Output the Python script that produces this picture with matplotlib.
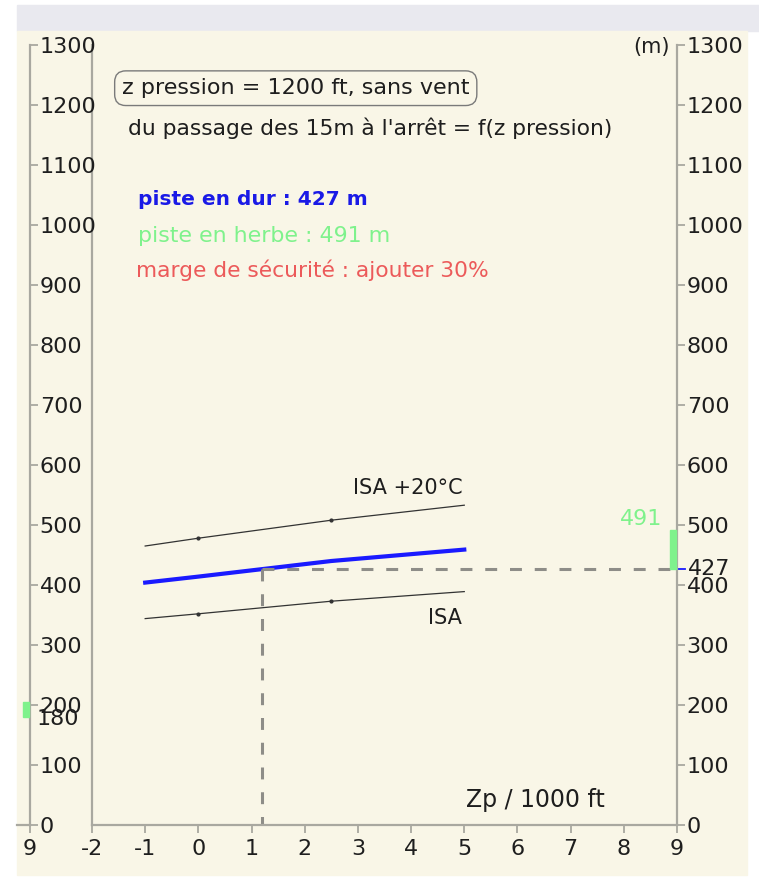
import matplotlib
matplotlib.use("Agg")
import matplotlib.pyplot as plt
from matplotlib.patches import Rectangle
import matplotlib.transforms as mtransforms

plt.rcParams["axes.unicode_minus"] = False

zp_points = [-1, 0, 2.5, 5]            # Zp / 1000 ft
dist_isa = [344, 352, 373, 389]         # m, ISA
dist_isa20 = [465, 478, 508, 533]       # m, ISA +20°C
dist_dur = [404, 414, 440, 459]         # m, piste en dur (interpolee)

zp_lu = 1.2          # z pression 1200 ft
dist_lue = 427       # piste en dur
dist_herbe = 491     # piste en herbe
dist_gauche = 180    # repere echelle gauche

x_ticks = list(range(-2, 10))
y_ticks = list(range(0, 1400, 100))

W, H = 759, 881
cream = "#f9f6e7"
axis_col = "#a9a8a0"
txt_col = "#1e1e1e"
fs = 16

fig = plt.figure(figsize=(W / 100, H / 100), dpi=100)
fig.patch.set_facecolor("white")

def px_rect(x0, y0, x1, y1, color):
    # rectangle en pixels (origine en haut a gauche)
    fig.add_artist(Rectangle((x0 / W, 1 - y1 / H), (x1 - x0) / W, (y1 - y0) / H,
                             transform=fig.transFigure, color=color, zorder=-10))

px_rect(17, 5, W, 31, "#e9e9ef")
px_rect(17, 31, 747, 875, cream)

# axe principal
left, right, bottom, top = 92, 677, 825, 45
ax = fig.add_axes([left / W, 1 - bottom / H, (right - left) / W, (bottom - top) / H])
ax.set_facecolor("none")
ax.set_xlim(-2, 9)
ax.set_ylim(0, 1300)
for s in ["left", "right", "bottom"]:
    ax.spines[s].set_color(axis_col)
    ax.spines[s].set_linewidth(1.6)
ax.spines["top"].set_visible(False)
ax.yaxis.tick_right()
ax.set_yticks(y_ticks)
ax.set_xticks(x_ticks)
ax.tick_params(axis="y", direction="out", length=6, width=1.3, color=axis_col,
               labelsize=fs, labelcolor=txt_col, pad=1)
ax.tick_params(axis="x", direction="out", length=6, width=1.3, color=axis_col,
               labelsize=fs, labelcolor=txt_col, pad=4)

# courbes
ax.plot(zp_points, dist_isa20, color="#333333", lw=0.9, marker="o", ms=2,
        markevery=[1, 2])
ax.plot(zp_points, dist_isa, color="#333333", lw=0.9, marker="o", ms=2,
        markevery=[1, 2])
ax.plot(zp_points, dist_dur, color="#1a1aff", lw=3)

# lecture
dash_col = "#8e8d88"
ax.plot([zp_lu, 9], [dist_lue, dist_lue], color=dash_col, lw=2.2,
        dashes=(3.9, 4.2), clip_on=False)
ax.plot([zp_lu, zp_lu], [dist_lue, 0], color=dash_col, lw=2.2,
        dashes=(3.9, 4.2), clip_on=False)

# reperes sur l'echelle droite
bx = mtransforms.blended_transform_factory(ax.transAxes, ax.transData)
ax.add_patch(Rectangle((1 - 7 / (right - left), dist_lue), 6 / (right - left),
                       dist_herbe - dist_lue, transform=bx, color="#7ff28c",
                       clip_on=False, zorder=3))
ax.plot([1, 1 + 8 / (right - left)], [dist_lue, dist_lue], transform=bx,
        color="#1a1aff", lw=1.3, clip_on=False)
ax.text(1 + 11 / (right - left), dist_lue, str(dist_lue), transform=bx,
        fontsize=fs, color=txt_col, va="center", ha="left")
ax.text(8.72, 510, str(dist_herbe), fontsize=fs, color="#7ff28c",
        va="center", ha="right")

# textes
ax.text(-1.436, 1228, "z pression = 1200 ft, sans vent", fontsize=16,
        color=txt_col, va="center", ha="left",
        bbox=dict(boxstyle="round,pad=0.33,rounding_size=0.5", fc="none",
                  ec="#7a7a7a", lw=1))
ax.text(-1.323, 1162, "du passage des 15m à l'arrêt = f(z pression)",
        fontsize=15.7, color=txt_col, va="center", ha="left")
ax.text(-1.135, 1042, "piste en dur : 427 m", fontsize=14.5, color="#1a1ae6",
        fontweight="bold", va="center", ha="left")
ax.text(-1.135, 982, "piste en herbe : 491 m", fontsize=15.9, color="#7ff28c",
        va="center", ha="left")
ax.text(-1.173, 925, "marge de sécurité : ajouter 30%", fontsize=15.7,
        color="#ec5a5a", va="center", ha="left")
ax.text(4.96, 562, "ISA +20°C", fontsize=15, color=txt_col, va="center",
        ha="right")
ax.text(4.96, 345, "ISA", fontsize=15, color=txt_col, va="center", ha="right")
ax.text(5.03, 42, "Zp / 1000 ft", fontsize=17, color=txt_col, va="center",
        ha="left")
ax.text(8.87, 1297, "(m)", fontsize=15, color=txt_col, va="center",
        ha="right")

# echelle de gauche (copie de l'echelle droite)
ax2 = fig.add_axes([17 / W, 1 - bottom / H, 13 / W, (bottom - top) / H])
ax2.set_facecolor("none")
ax2.set_xlim(9 - 13 / 53.18, 9)
ax2.set_ylim(0, 1300)
for s in ["left", "top"]:
    ax2.spines[s].set_visible(False)
for s in ["right", "bottom"]:
    ax2.spines[s].set_color(axis_col)
    ax2.spines[s].set_linewidth(1.6)
ax2.yaxis.tick_right()
ax2.set_yticks(y_ticks)
ax2.set_xticks([9])
ax2.tick_params(axis="y", direction="out", length=6, width=1.3, color=axis_col,
                labelsize=fs, labelcolor=txt_col, pad=1)
ax2.tick_params(axis="x", direction="out", length=6, width=1.3, color=axis_col,
                labelsize=fs, labelcolor=txt_col, pad=4)
bx2 = mtransforms.blended_transform_factory(ax2.transAxes, ax2.transData)
ax2.add_patch(Rectangle((6 / 13, dist_gauche), 6 / 13, 25, transform=bx2,
                        color="#7ff28c", clip_on=False, zorder=3))
ax2.text(1 + 7 / 13, dist_gauche - 4, str(dist_gauche), transform=bx2,
         fontsize=fs, color=txt_col, va="center", ha="left")

fig.savefig("out.png", dpi=100)
